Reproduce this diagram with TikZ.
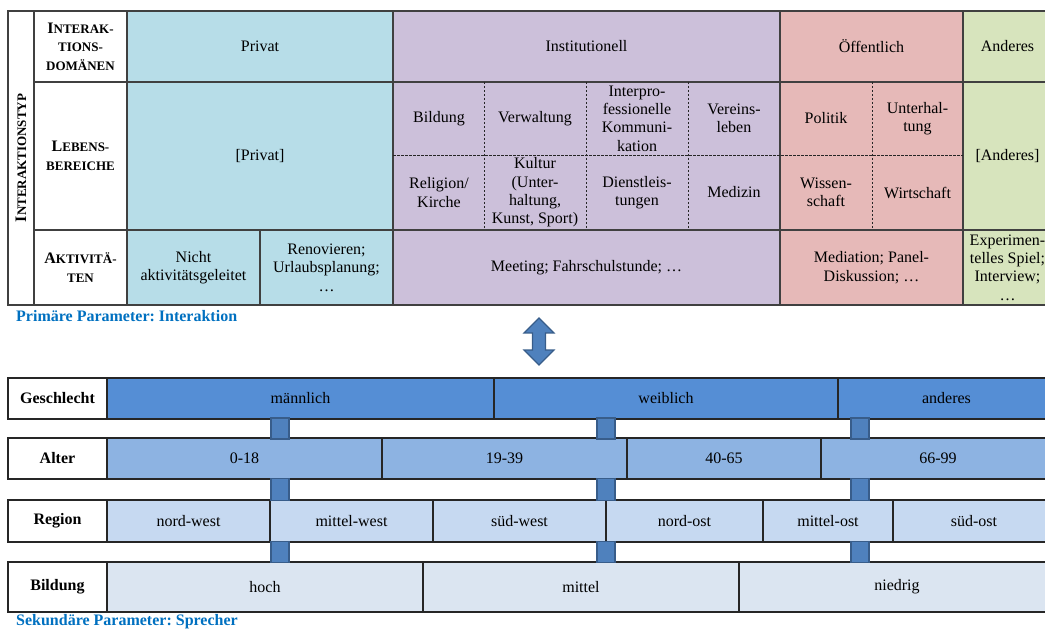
\documentclass[tikz,border=0pt]{standalone}
\usepackage{fontspec}
\usepackage{graphicx}
\setmainfont{Liberation Serif}
\frenchspacing
\definecolor{tblline}{HTML}{404040}
\definecolor{cPriv}{HTML}{B7DDE8}
\definecolor{cInst}{HTML}{CCC0DA}
\definecolor{cOeff}{HTML}{E6B9B8}
\definecolor{cAnd}{HTML}{D7E4BD}
\definecolor{cGes}{HTML}{558ED5}
\definecolor{cAlt}{HTML}{8DB3E2}
\definecolor{cReg}{HTML}{C6D9F1}
\definecolor{cBil}{HTML}{DBE5F1}
\definecolor{cSq}{HTML}{4F81BD}
\definecolor{cSqB}{HTML}{385D8A}
\definecolor{cCap}{HTML}{0070C0}
\newcommand\capsfx[2]{#1{\fontsize{13}{15}\selectfont #2}}
\newcommand\smc[1]{{\fontsize{13}{15}\selectfont #1}}
\newcommand\cell[7][]{%
  \pgfmathsetmacro\cw{#5-#3}\pgfmathsetmacro\ch{#6-#4}%
  \node[cellbox,minimum width=\cw pt,minimum height=\ch pt,#1] (#2) at ({(#3+#5)/2},{(#4+#6)/2}) {#7};}
\begin{document}
\begin{tikzpicture}[x=1pt,y=-1pt,
  every node/.style={font=\fontsize{16}{18.4}\selectfont\frenchspacing},
  cellbox/.style={draw=tblline,line width=1.2pt,inner sep=0pt,outer sep=0pt,align=center},
  rowbox/.style={draw=black!85,line width=1.2pt,inner sep=0pt,outer sep=0pt,align=center},
  txt/.style={align=center,inner sep=0pt},
  hdr/.style={font=\fontsize{16}{18.4}\selectfont\bfseries},
  dsh/.style={draw=black!85,line width=0.8pt,dash pattern=on 2.5pt off 1.5pt},
  sqbox/.style={draw=cSqB,fill=cSq,line width=1.8pt,inner sep=0pt,outer sep=0pt},
  arrowshape/.style={draw=cSqB,fill=cSq,line width=1.2pt,line join=miter},
  captxt/.style={anchor=west,inner sep=0pt,text=cCap,font=\fontsize{16}{18}\selectfont\bfseries\frenchspacing}]
\useasboundingbox (0,0) rectangle (1045,631);
% ---------- top table ----------
\cell[fill=white,hdr]{vt}{8}{11}{34}{305}{\rotatebox{90}{\capsfx{I}{NTERAKTIONSTYP}}}
\cell[fill=white,hdr]{hDom}{34}{11}{127}{82}{\capsfx{I}{NTERAK-}\\\smc{TIONS-}\\\smc{DOMÄNEN}}
\cell[fill=white,hdr]{hLeb}{34}{82}{127}{230}{\capsfx{L}{EBENS-}\\\smc{BEREICHE}}
\cell[fill=white,hdr]{hAkt}{34}{230}{127}{305}{\capsfx{A}{KTIVITÄ-}\\\smc{TEN}}
% domains
\cell[fill=cPriv]{dPriv}{127}{11}{393}{82}{Privat}
\cell[fill=cInst]{dInst}{393}{11}{780}{82}{Institutionell}
\cell[fill=cOeff]{dOeff}{780}{11}{963}{82}{Öffentlich}
\cell[fill=cAnd]{dAnd}{963}{11}{1052}{82}{Anderes}
% lebensbereiche
\cell[fill=cPriv]{lPriv}{127}{82}{393}{230}{[Privat]}
\cell[fill=cInst]{lInst}{393}{82}{780}{230}{}
\cell[fill=cOeff]{lOeff}{780}{82}{963}{230}{}
\cell[fill=cAnd]{lAnd}{963}{82}{1052}{230}{[Anderes]}
\draw[dsh] (lInst.west |- 0,155) -- (lOeff.east |- 0,155);
\draw[dsh] (484,82) -- (484,230);
\draw[dsh] (586,82) -- (586,230);
\draw[dsh] (688,82) -- (688,230);
\draw[dsh] (872,82) -- (872,230);
\node[txt] (bild) at (439,118.5) {Bildung};
\node[txt] (verw) at (535,118.5) {Verwaltung};
\node[txt] (inter) at (637,118.5) {Interpro-\\fessionelle\\Kommuni-\\kation};
\node[txt] (verein) at (734,118.5) {Vereins-\\leben};
\node[txt] (relig) at (439,192.5) {Religion/\\Kirche};
\node[txt] (kult) at (535,192.5) {Kultur\\(Unter-\\haltung,\\Kunst, Sport)};
\node[txt] (dienst) at (637,192.5) {Dienstleis-\\tungen};
\node[txt] (med) at (734,192.5) {Medizin};
\node[txt] (pol) at (826,118.5) {Politik};
\node[txt] (unt) at (917.5,118.5) {Unterhal-\\tung};
\node[txt] (wiss) at (826,192.5) {Wissen-\\schaft};
\node[txt] (wirt) at (917.5,192.5) {Wirtschaft};
% aktivitaeten
\cell[fill=cPriv]{aPriv1}{127}{230}{260}{305}{Nicht\\aktivitätsgeleitet}
\cell[fill=cPriv]{aPriv2}{260}{230}{393}{305}{Renovieren;\\Urlaubsplanung;\\…}
\cell[fill=cInst]{aInst}{393}{230}{780}{305}{Meeting; Fahrschulstunde; …}
\cell[fill=cOeff]{aOeff}{780}{230}{963}{305}{Mediation; Panel-\\Diskussion; …}
\cell[fill=cAnd]{aAnd}{963}{230}{1052}{305}{Experimen-\\telles Spiel;\\Interview;\\…}
\node[captxt] (cap1) at (16,316.5) {Primäre Parameter: Interaktion};
% ---------- double arrow ----------
\draw[arrowshape] (539,318) -- (554,333) -- (545.5,333) -- (545.5,350) -- (554,350)
  -- (539,365) -- (524,350) -- (532.5,350) -- (532.5,333) -- (524,333) -- cycle;
% ---------- bottom rows ----------
\cell[rowbox,fill=white,hdr]{gLab}{8}{378}{107}{419}{Geschlecht}
\cell[rowbox,fill=cGes]{g1}{107}{378}{494}{419}{männlich}
\cell[rowbox,fill=cGes]{g2}{494}{378}{838}{419}{weiblich}
\cell[rowbox,fill=cGes]{g3}{838}{378}{1055}{419}{anderes}
\cell[rowbox,fill=white,hdr]{aLab}{8}{438}{107}{479}{Alter}
\cell[rowbox,fill=cAlt]{a1}{107}{438}{382}{479}{0-18}
\cell[rowbox,fill=cAlt]{a2}{382}{438}{627}{479}{19-39}
\cell[rowbox,fill=cAlt]{a3}{627}{438}{821}{479}{40-65}
\cell[rowbox,fill=cAlt]{a4}{821}{438}{1055}{479}{66-99}
\cell[rowbox,fill=white,hdr]{rLab}{8}{500}{107}{542}{Region}
\cell[rowbox,fill=cReg]{r1}{107}{500}{270}{542}{nord-west}
\cell[rowbox,fill=cReg]{r2}{270}{500}{433}{542}{mittel-west}
\cell[rowbox,fill=cReg]{r3}{433}{500}{606}{542}{süd-west}
\cell[rowbox,fill=cReg]{r4}{606}{500}{763}{542}{nord-ost}
\cell[rowbox,fill=cReg]{r5}{763}{500}{893}{542}{mittel-ost}
\cell[rowbox,fill=cReg]{r6}{893}{500}{1055}{542}{süd-ost}
\cell[rowbox,fill=white,hdr]{bLab}{8}{562}{107}{612}{Bildung}
\cell[rowbox,fill=cBil]{b1}{107}{562}{423}{612}{hoch}
\cell[rowbox,fill=cBil]{b2}{423}{562}{739}{612}{mittel}
\cell[rowbox,fill=cBil]{b3}{739}{562}{1055}{612}{niedrig}
% connector squares
\foreach \sx [count=\i] in {280,606,860}{
  \node[sqbox,minimum width=18pt,minimum height=21pt] (sqA\i) at (\sx,428.5) {};
  \node[sqbox,minimum width=18pt,minimum height=22pt] (sqB\i) at (\sx,489.5) {};
  \node[sqbox,minimum width=18pt,minimum height=21pt] (sqC\i) at (\sx,552) {};
}
\node[captxt] (cap2) at (16,622) {Sekundäre Parameter: Sprecher};
\end{tikzpicture}
\end{document}
